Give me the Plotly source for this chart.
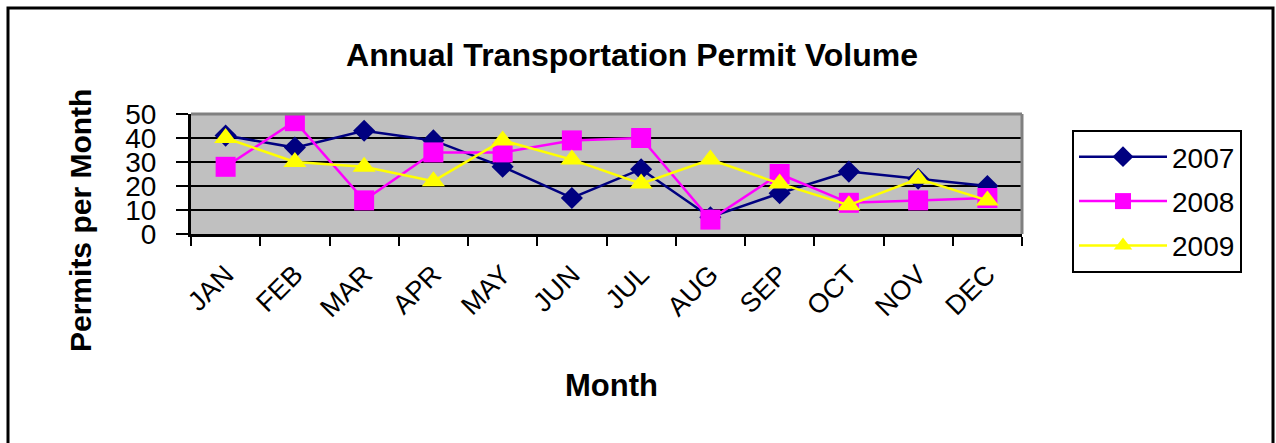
import plotly.graph_objects as go

months = ["JAN", "FEB", "MAR", "APR", "MAY", "JUN", "JUL", "AUG", "SEP", "OCT", "NOV", "DEC"]
v2007 = [41, 36, 43, 39, 28, 15, 27, 7, 17, 26, 23, 20]
v2008 = [28, 47, 14, 34, 34, 39, 40, 6, 25, 13, 14, 15]
v2009 = [40, 30, 28, 22, 39, 31, 21, 31, 21, 12, 23, 14]
y_ticks = [0, 10, 20, 30, 40, 50]

FONT = "Arial, Liberation Sans, sans-serif"

fig = go.Figure()
series = [
    ("2007", v2007, "#000080", "diamond", 17),
    ("2008", v2008, "#FF00FF", "square", 20),
    ("2009", v2009, "#FFFF00", "triangle-up", 20),
]
for i, (name, vals, col, sym, sz) in enumerate(series):
    fig.add_trace(go.Scatter(
        x=months, y=vals, name=name, mode="lines+markers",
        line=dict(color=col, width=2.5),
        marker=dict(symbol=sym, size=sz, color=col, line=dict(width=0)),
        legendgroup=f"g{i}",
    ))

fig.update_layout(
    width=1276, height=443,
    margin=dict(l=191, r=254, t=114, b=209),
    paper_bgcolor="white",
    plot_bgcolor="#C0C0C0",
    font=dict(family=FONT, color="black"),
    title=dict(text="<b>Annual Transportation Permit Volume</b>",
               x=632 / 1276, xanchor="center", y=1 - 55 / 443, yanchor="middle",
               font=dict(size=32, family=FONT, color="black")),
    legend=dict(
        x=(1072 - 191) / 831, y=1 - (130 - 114) / 120,
        xanchor="left", yanchor="top",
        bordercolor="black", borderwidth=2, bgcolor="white",
        font=dict(size=28, family=FONT, color="black"),
        itemwidth=88, tracegroupgap=5, maxheight=300,
    ),
    showlegend=True,
)

fig.update_xaxes(
    type="category", range=[-0.5, 11.5], automargin=False,
    tickson="boundaries", ticks="outside", ticklen=9, tickwidth=2, tickcolor="black",
    showline=True, linecolor="black", linewidth=3,
    showgrid=False, tickangle=-45,
    tickfont=dict(size=27, family=FONT, color="black"),
    ticklabelstandoff=11,
)
fig.update_yaxes(
    range=[0, 50], tickmode="array", tickvals=y_ticks, automargin=False,
    ticks="outside", ticklen=12, tickwidth=2, tickcolor="black",
    showline=True, linecolor="black", linewidth=3,
    showgrid=True, gridcolor="black", gridwidth=2,
    zeroline=False,
    tickfont=dict(size=28, family=FONT, color="black"),
    ticklabelstandoff=14,
)

# Axis titles
fig.add_annotation(text="<b>Month</b>", xref="paper", yref="paper",
                   x=(611 - 191) / 831, y=-(385 - 234) / 120,
                   showarrow=False, xanchor="center", yanchor="middle",
                   font=dict(size=31, family=FONT, color="black"))
fig.add_annotation(text="<b>Permits per Month</b>", xref="paper", yref="paper",
                   x=(80 - 191) / 831, y=(234 - 220) / 120, textangle=-90,
                   showarrow=False, xanchor="center", yanchor="middle",
                   font=dict(size=30, family=FONT, color="black"))

# plot area border (gray top/right) and outer chart frame
fig.add_shape(type="line", xref="paper", yref="paper", x0=0, x1=1, y0=1, y1=1,
              line=dict(color="#808080", width=3), layer="above")
fig.add_shape(type="line", xref="paper", yref="paper", x0=1, x1=1, y0=0, y1=1,
              line=dict(color="#808080", width=3), layer="above")
fig.add_shape(type="rect", xref="paper", yref="paper",
              x0=(8 - 191) / 831, x1=(1273 - 191) / 831,
              y0=-(460 - 234) / 120, y1=(234 - 8) / 120,
              line=dict(color="black", width=3), layer="above")

fig.write_html("out.html", config={"displayModeBar": False},
               post_script="document.body.style.margin='0';document.body.style.overflow='hidden';")
